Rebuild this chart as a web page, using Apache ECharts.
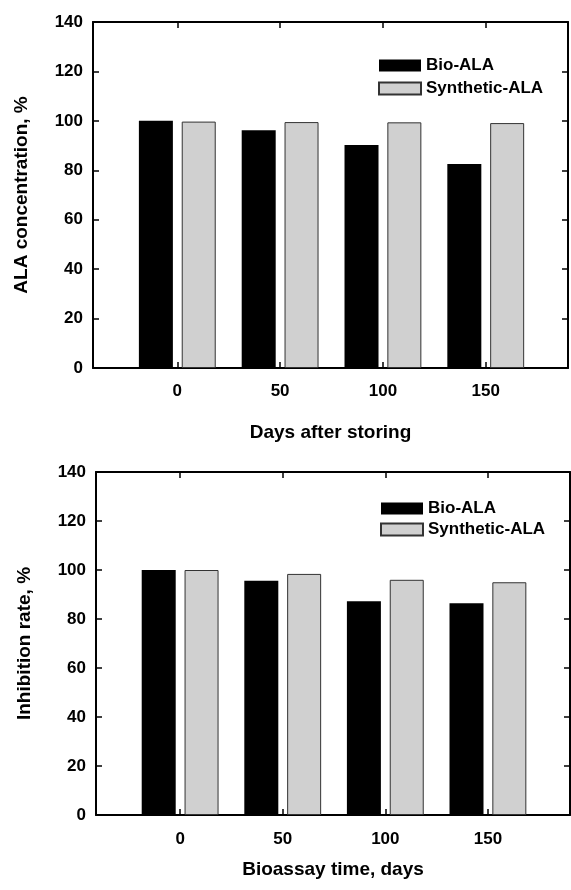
<!DOCTYPE html>
<html>
<head>
<meta charset="utf-8">
<script src="https://cdn.jsdelivr.net/npm/echarts@6/dist/echarts.min.js"></script>
<style>
html, body { margin: 0; padding: 0; background: #fff; }
#main { width: 571px; height: 890px; }
</style>
</head>
<body>
<div id="main"></div>
<script>
// days on the x axis
var days = [0, 50, 100, 150];

// top panel: ALA concentration
var concBio = [100, 96.2, 90.2, 82.5];
var concSyn = [99.7, 99.5, 99.4, 99.1];

// bottom panel: inhibition rate
var inhBio = [100, 95.6, 87.2, 86.4];
var inhSyn = [100, 98.4, 96.0, 95.0];

function pairs(vals) {
	return days.map(function (d, i) { return [d, vals[i]]; });
}

var font = 'Liberation Sans, Arial, sans-serif';
var txt = { color: '#000', fontFamily: font, fontWeight: 'bold' };
var line = { onZero: false, lineStyle: { color: '#000', width: 2 } };

function xBottom(idx, name, margin, gap) {
	return {
		type: 'value', gridIndex: idx, min: -41, max: 190,
		name: name, nameLocation: 'middle', nameGap: gap,
		nameTextStyle: Object.assign({ fontSize: 19 }, txt),
		axisLine: line,
		axisTick: { inside: true, length: 6, lineStyle: { color: '#000', width: 1.5 }, customValues: days },
		axisLabel: Object.assign({ fontSize: 17, margin: margin, customValues: days }, txt),
		splitLine: { show: false }
	};
}
function xTop(idx) {
	return {
		type: 'value', gridIndex: idx, min: -41, max: 190, position: 'top',
		axisLine: line,
		axisTick: { inside: true, length: 6, lineStyle: { color: '#000', width: 1.5 }, customValues: days },
		axisLabel: { show: false },
		splitLine: { show: false }
	};
}
function yLeft(idx, name) {
	return {
		type: 'value', gridIndex: idx, min: 0, max: 140, interval: 20, position: 'left',
		name: name, nameLocation: 'middle', nameGap: 62, nameRotate: 90,
		nameTextStyle: Object.assign({ fontSize: 19 }, txt),
		axisLine: Object.assign({ show: true }, line),
		axisTick: { show: true, inside: true, length: 6, lineStyle: { color: '#000', width: 1.5 } },
		axisLabel: Object.assign({ fontSize: 17, margin: 10 }, txt),
		splitLine: { show: false }
	};
}
function yRight(idx) {
	return {
		type: 'value', gridIndex: idx, min: 0, max: 140, interval: 20, position: 'right',
		axisLine: Object.assign({ show: true }, line),
		axisTick: { show: true, inside: true, length: 6, lineStyle: { color: '#000', width: 1.5 } },
		axisLabel: { show: false },
		splitLine: { show: false }
	};
}
function barSeries(name, xi, yi, vals, dark) {
	return {
		name: name, type: 'bar', xAxisIndex: xi, yAxisIndex: yi,
		data: pairs(vals), barWidth: 34, barGap: '26%',
		itemStyle: dark
			? { color: '#000' }
			: { color: '#d0d0d0', borderColor: '#333', borderWidth: 1 }
	};
}

var legendText = Object.assign({ fontSize: 17 }, txt);

var myChart = echarts.init(document.getElementById('main'));
myChart.setOption({
	animation: false,
	grid: [
		{ left: 93, right: 3, top: 22, height: 346 },
		{ left: 96, right: 1, top: 472, height: 343 }
	],
	legend: [
		{ orient: 'vertical', left: 373, top: 52, itemWidth: 42, itemHeight: 12, itemGap: 6, itemTextGap: 9,
			icon: 'rect', textStyle: legendText, data: ['Bio-ALA', 'Synthetic-ALA'] },
		{ orient: 'vertical', left: 375, top: 495, itemWidth: 42, itemHeight: 12, itemGap: 4, itemTextGap: 9,
			icon: 'rect', textStyle: legendText, data: ['Bio-ALA', 'Synthetic-ALA'] }
	],
	xAxis: [
		xBottom(0, 'Days after storing', 15, 55), xTop(0),
		xBottom(1, 'Bioassay time, days', 16, 45), xTop(1)
	],
	yAxis: [
		yLeft(0, 'ALA concentration, %'), yRight(0),
		yLeft(1, 'Inhibition rate, %'), yRight(1)
	],
	series: [
		barSeries('Bio-ALA', 0, 0, concBio, true),
		barSeries('Synthetic-ALA', 0, 0, concSyn, false),
		barSeries('Bio-ALA', 2, 2, inhBio, true),
		barSeries('Synthetic-ALA', 2, 2, inhSyn, false)
	]
});
</script>
</body>
</html>
